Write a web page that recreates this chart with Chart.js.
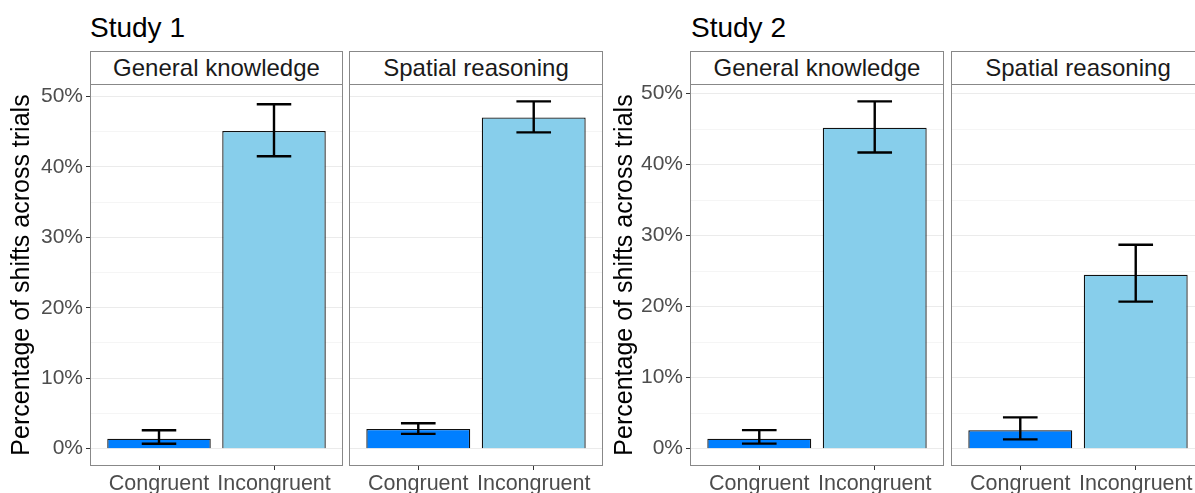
<!DOCTYPE html>
<html>
<head>
<meta charset="utf-8">
<script src="https://cdn.jsdelivr.net/npm/chart.js@4.4.1/dist/chart.umd.min.js"></script>
<style>
  html, body { margin: 0; padding: 0; background: #fff; overflow: hidden; }
  #wrap { position: relative; width: 1195px; height: 493px; overflow: hidden; font-family: "Liberation Sans", Arial, sans-serif; }
  .study { position: absolute; top: 14px; font-size: 28px; line-height: 27px; color: #000; }
  .strip { position: absolute; top: 51px; height: 34px; box-sizing: border-box; border: 1px solid #888; background: #fff;
           font-size: 24px; line-height: 32px; color: #1a1a1a; text-align: center; }
  canvas { position: absolute; }
</style>
</head>
<body>
<div id="wrap">
  <div class="study" style="left:90px">Study 1</div>
  <div class="study" style="left:691px">Study 2</div>

  <div class="strip" style="left:90px;width:253px">General knowledge</div>
  <div class="strip" style="left:349px;width:254px">Spatial reasoning</div>
  <div class="strip" style="left:690px;width:254px">General knowledge</div>
  <div class="strip" style="left:951px;width:254px">Spatial reasoning</div>

  <canvas id="s1gk" width="343" height="409" style="left:0px;top:84px"></canvas>
  <canvas id="s1sr" width="254" height="409" style="left:349px;top:84px"></canvas>
  <canvas id="s2gk" width="341" height="409" style="left:603px;top:84px"></canvas>
  <canvas id="s2sr" width="254" height="409" style="left:951px;top:84px"></canvas>
</div>

<script>
const categories = ["Congruent", "Incongruent"];
const yTicks = [0, 10, 20, 30, 40, 50];
const yMinorTicks = [5, 15, 25, 35, 45];
const barColors = ["#007FFF", "#87CEEB"];

// Study 1 (mean, lower and upper error bounds, in %)
const study1GeneralMean = [1.4, 45.1];
const study1GeneralLow = [0.7, 41.5];
const study1GeneralHigh = [2.6, 48.9];
const study1SpatialMean = [2.8, 47.0];
const study1SpatialLow = [2.1, 44.9];
const study1SpatialHigh = [3.6, 49.3];

// Study 2
const study2GeneralMean = [1.4, 45.2];
const study2GeneralLow = [0.7, 41.7];
const study2GeneralHigh = [2.6, 48.9];
const study2SpatialMean = [2.6, 24.5];
const study2SpatialLow = [1.3, 20.7];
const study2SpatialHigh = [4.4, 28.7];

const yTitle = "Percentage of shifts across trials";
const font = "'Liberation Sans', Arial, sans-serif";

// ggplot style 5% expansion around the data range
function yRange(highs) {
    const top = Math.max(...highs);
    return { min: -top * 0.05, max: top * 1.05 };
}

const panelPlugin = {
    id: "panel",
    afterDatasetsDraw(chart) {
        const { ctx, scales } = chart;
        const lows = chart.options.plugins.panel.lows;
        const highs = chart.options.plugins.panel.highs;
        const half = scales.x.getPixelForValue(1.15) - scales.x.getPixelForValue(1);
        ctx.save();
        ctx.strokeStyle = "#000";
        ctx.lineWidth = 2.4;
        lows.forEach((low, i) => {
            const x = scales.x.getPixelForValue(i + 1);
            const y1 = scales.y.getPixelForValue(low);
            const y2 = scales.y.getPixelForValue(highs[i]);
            ctx.beginPath();
            ctx.moveTo(x, y1);
            ctx.lineTo(x, y2);
            ctx.moveTo(x - half, y1);
            ctx.lineTo(x + half, y1);
            ctx.moveTo(x - half, y2);
            ctx.lineTo(x + half, y2);
            ctx.stroke();
        });
        ctx.restore();
    },
    afterDraw(chart) {
        const { ctx, chartArea } = chart;
        ctx.save();
        ctx.strokeStyle = "#888";
        ctx.lineWidth = 1;
        ctx.strokeRect(chartArea.left + 0.5, chartArea.top + 0.5,
            chartArea.right - chartArea.left - 1, chartArea.bottom - chartArea.top - 1);
        ctx.restore();
    },
};

function makePanel(id, means, lows, highs, range, axisWidth) {
    const showY = axisWidth > 0;
    new Chart(document.getElementById(id), {
        type: "bar",
        data: {
            datasets: [
                {
                    data: means.map((v, i) => ({ x: i + 1, y: v })),
                    backgroundColor: barColors,
                    borderColor: "#111",
                    borderWidth: 1.3,
                    categoryPercentage: 1,
                    barPercentage: 0.9,
                },
            ],
        },
        options: {
            responsive: false,
            animation: false,
            devicePixelRatio: 1,
            layout: { padding: 0 },
            plugins: {
                legend: { display: false },
                tooltip: { enabled: false },
                panel: { lows: lows, highs: highs },
            },
            scales: {
                x: {
                    type: "linear",
                    bounds: "data",
                    offset: false,
                    min: 0.4,
                    max: 2.6,
                    afterBuildTicks: (s) => {
                        s.ticks = categories.map((c, i) => ({ value: i + 1 }));
                    },
                    afterFit: (s) => {
                        s.height = 27;
                        s.paddingLeft = 0;
                        s.paddingRight = 0;
                    },
                    ticks: {
                        callback: (v, i) => categories[i],
                        font: { family: font, size: 21.5 },
                        color: "#4d4d4d",
                        padding: 1,
                        maxRotation: 0,
                        autoSkip: false,
                    },
                    grid: { offset: false, drawOnChartArea: false, drawTicks: true, tickLength: 4, tickColor: "#333" },
                    border: { display: false },
                },
                y: {
                    bounds: "data",
                    min: range.min,
                    max: range.max,
                    afterBuildTicks: (s) => {
                        s.ticks = [...yTicks, ...yMinorTicks].sort((a, b) => a - b).map((v) => ({ value: v }));
                    },
                    afterFit: (s) => {
                        s.width = axisWidth;
                        s.paddingTop = 0;
                        s.paddingBottom = 0;
                    },
                    ticks: {
                        display: showY,
                        callback: (v) => (yTicks.includes(v) ? v + "%" : ""),
                        font: { family: font, size: 21 },
                        color: "#4d4d4d",
                        padding: 3,
                    },
                    title: {
                        display: showY,
                        text: yTitle,
                        font: { family: font, size: 25 },
                        color: "#000",
                        padding: { top: 7, bottom: 0 },
                    },
                    grid: {
                        drawTicks: showY,
                        tickLength: 4,
                        color: (c) => (c.tick && yTicks.includes(c.tick.value) ? "#ebebeb" : "#f5f5f5"),
                        tickColor: (c) => (c.tick && yTicks.includes(c.tick.value) ? "#333" : "rgba(0,0,0,0)"),
                    },
                    border: { display: false },
                },
            },
        },
        plugins: [panelPlugin],
    });
}

const study1Range = yRange([...study1GeneralHigh, ...study1SpatialHigh]);
const study2Range = yRange([...study2GeneralHigh, ...study2SpatialHigh]);

makePanel("s1gk", study1GeneralMean, study1GeneralLow, study1GeneralHigh, study1Range, 90);
makePanel("s1sr", study1SpatialMean, study1SpatialLow, study1SpatialHigh, study1Range, 0);
makePanel("s2gk", study2GeneralMean, study2GeneralLow, study2GeneralHigh, study2Range, 87);
makePanel("s2sr", study2SpatialMean, study2SpatialLow, study2SpatialHigh, study2Range, 0);
</script>
</body>
</html>
